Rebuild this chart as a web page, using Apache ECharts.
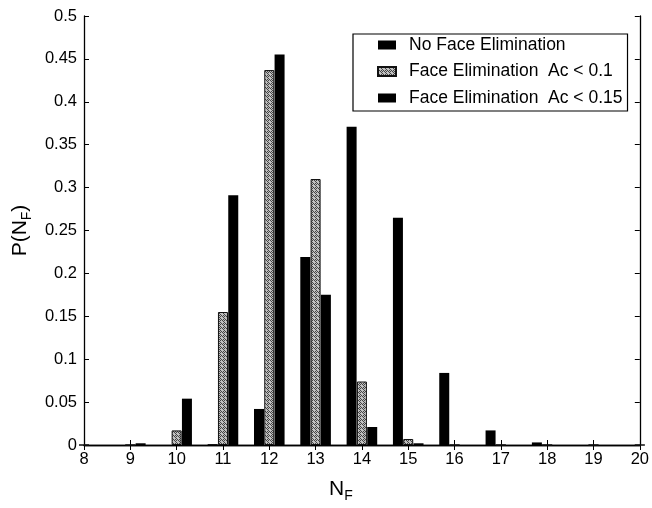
<!DOCTYPE html>
<html>
<head>
<meta charset="utf-8">
<script src="https://cdn.jsdelivr.net/npm/echarts@6/dist/echarts.min.js"></script>
<style>
html,body{margin:0;padding:0;background:#fff;overflow:hidden;}
#chart{width:652px;height:508px;}
</style>
</head>
<body>
<div id="chart"></div>
<script>
// Data
var nf = [8, 9, 10, 11, 12, 13, 14, 15, 16, 17, 18, 19, 20];
var noElim = [0, 0, 0, 0.001, 0.042, 0.219, 0.371, 0.265, 0.084, 0.017, 0.003, 0, 0];
var elim010 = [0, 0, 0.017, 0.155, 0.437, 0.310, 0.074, 0.007, 0, 0, 0, 0, 0];
var elim015 = [0, 0.002, 0.054, 0.291, 0.455, 0.175, 0.021, 0.002, 0, 0, 0, 0, 0];
var seriesNames = ['No Face Elimination', 'Face Elimination  Ac < 0.1', 'Face Elimination  Ac < 0.15'];
var xTicks = { min: 8, max: 20, interval: 1 };
var yTicks = { min: 0, max: 0.5, interval: 0.05 };

function pairs(vals) { return nf.map(function (x, i) { return [x, vals[i]]; }); }

// dithered gray pattern
var pc = document.createElement('canvas');
pc.width = 4; pc.height = 4;
var pctx = pc.getContext('2d');
pctx.fillStyle = '#c0c0c0'; pctx.fillRect(0, 0, 4, 4);
pctx.fillStyle = '#444444';
[[0,0],[2,0],[1,1],[3,1],[0,2],[2,2],[1,3],[3,3]].forEach(function (p, k) {
  if (k % 3 !== 2) pctx.fillRect(p[0], p[1], 1, 1);
});
var grayPattern = { image: pc, repeat: 'repeat' };

var font = 'Liberation Sans, Arial, Helvetica, sans-serif';
var chart = echarts.init(document.getElementById('chart'), null, { renderer: 'canvas' });

var axisLine = { show: true, lineStyle: { color: '#000', width: 1.3 } };
var tick = { show: true, inside: true, length: 5, lineStyle: { color: '#000' } };
var option = {
  animation: false,
  backgroundColor: '#fff',
  textStyle: { fontFamily: font },
  grid: { left: 84, top: 16, width: 557, height: 441, containLabel: false },
  legend: {
    orient: 'vertical',
    left: 353, top: 34,
    padding: [2, 5, 4, 24],
    itemGap: 8.5,
    itemWidth: 18, itemHeight: 9,
    borderColor: '#000', borderWidth: 1.2,
    backgroundColor: '#fff',
    textStyle: { fontFamily: font, fontSize: 17.5, lineHeight: 14, color: '#000', padding: [0, 0, 0, 8] },
    data: [
      { name: seriesNames[0], icon: 'rect' },
      { name: seriesNames[1], icon: 'rect' },
      { name: seriesNames[2], icon: 'rect' }
    ]
  },
  xAxis: [{
    type: 'value', position: 'bottom',
    min: xTicks.min, max: xTicks.max, interval: xTicks.interval,
    axisLine: axisLine, axisTick: tick,
    axisLabel: { fontFamily: font, fontSize: 16.5, color: '#000', margin: 6 },
    splitLine: { show: false },
    name: '{n|N}{s|F}',
    nameLocation: 'middle', nameGap: 30,
    nameTextStyle: {
      padding: [0, 42, 0, 0],
      rich: {
        n: { fontFamily: font, fontSize: 21, color: '#000' },
        s: { fontFamily: font, fontSize: 14, color: '#000', padding: [14, 0, 0, 0] }
      }
    }
  }, {
    type: 'value', position: 'top',
    min: xTicks.min, max: xTicks.max, interval: xTicks.interval,
    axisLine: axisLine, axisTick: tick,
    axisLabel: { show: false }, splitLine: { show: false }
  }],
  yAxis: [{
    type: 'value', position: 'left',
    min: yTicks.min, max: yTicks.max, interval: yTicks.interval,
    axisLine: axisLine, axisTick: tick,
    axisLabel: { fontFamily: font, fontSize: 16.5, color: '#000', margin: 7 },
    splitLine: { show: false },
    name: '{n|P(N}{s|F}{n|)}',
    nameLocation: 'middle', nameGap: 46, nameRotate: 90,
    nameTextStyle: {
      rich: {
        n: { fontFamily: font, fontSize: 21, color: '#000' },
        s: { fontFamily: font, fontSize: 14, color: '#000', padding: [14, 0, 0, 0] }
      }
    }
  }, {
    type: 'value', position: 'right',
    min: yTicks.min, max: yTicks.max, interval: yTicks.interval,
    axisLine: axisLine, axisTick: tick,
    axisLabel: { show: false }, splitLine: { show: false }
  }],
  series: [{
    name: seriesNames[0], type: 'bar', xAxisIndex: 0, yAxisIndex: 0,
    barWidth: 10, barGap: '3%',
    itemStyle: { color: '#000' },
    data: pairs(noElim)
  }, {
    name: seriesNames[1], type: 'bar', xAxisIndex: 0, yAxisIndex: 0,
    barWidth: 10, barGap: '3%',
    itemStyle: { color: grayPattern, borderColor: '#111', borderWidth: 1 },
    data: pairs(elim010)
  }, {
    name: seriesNames[2], type: 'bar', xAxisIndex: 0, yAxisIndex: 0,
    barWidth: 10, barGap: '3%',
    itemStyle: { color: '#000' },
    data: pairs(elim015)
  }]
};
chart.setOption(option);
</script>
</body>
</html>
